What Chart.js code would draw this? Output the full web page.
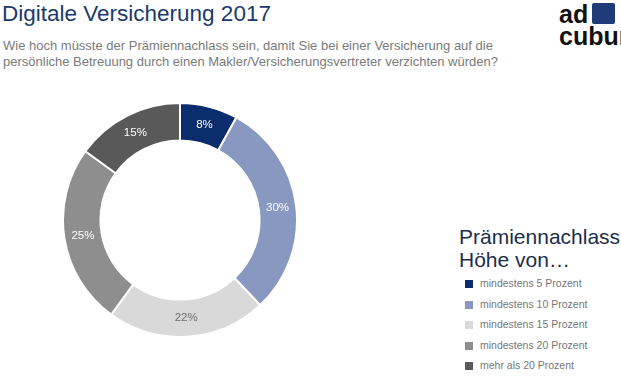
<!DOCTYPE html>
<html>
<head>
<meta charset="utf-8">
<script src="https://cdn.jsdelivr.net/npm/chart.js@4"></script>
<style>
  body { margin: 0; width: 621px; height: 383px; background: #fff; overflow: hidden; font-family: "Liberation Sans", Arial, sans-serif; position: relative; }
  #title { position: absolute; left: 2px; top: 1px; font-size: 22.5px; color: #1b3a6b; }
  #sub { position: absolute; left: 3px; top: 38px; font-size: 13px; line-height: 16px; color: #7a7a7a; }
  #logo { position: absolute; left: 559px; top: 3px; font-weight: bold; font-size: 25px; line-height: 22px; color: #111; }
  #logo .sq { display: inline-block; width: 23px; height: 21px; background: #1f3a78; vertical-align: -1px; margin-left: 4px; border-radius: 2px; }
  #chartBox { position: absolute; left: 60px; top: 100px; width: 240px; height: 240px; }
  #legTitle { position: absolute; left: 459px; top: 225px; font-size: 21px; line-height: 23px; color: #1c2e4a; }
  #legend { position: absolute; left: 465px; top: 277px; font-size: 10.5px; color: #777; }
  #legend div { height: 20.5px; white-space: nowrap; }
  #legend span.box { display: inline-block; width: 8px; height: 8px; margin-right: 7px; vertical-align: -1px; }
</style>
</head>
<body>
<div id="title">Digitale Versicherung 2017</div>
<div id="sub">Wie hoch müsste der Prämiennachlass sein, damit Sie bei einer Versicherung auf die<br>persönliche Betreuung durch einen Makler/Versicherungsvertreter verzichten würden?</div>
<div id="logo">ad<span class="sq"></span><br>cubum</div>
<div id="chartBox"><canvas id="donut"></canvas></div>
<div id="legTitle">Prämiennachlass<br>Höhe von…</div>
<div id="legend"></div>
<script>
const categories = ['mindestens 5 Prozent', 'mindestens 10 Prozent', 'mindestens 15 Prozent', 'mindestens 20 Prozent', 'mehr als 20 Prozent'];
const values = [8, 30, 22, 25, 15];
const colors = ['#0b2d6e', '#8898c0', '#d9d9d9', '#8e8e8e', '#595959'];
const labelColors = ['#ffffff', '#ffffff', '#6e6e6e', '#ffffff', '#ffffff'];

// Legende
const legend = document.getElementById('legend');
categories.forEach((c, i) => {
    const row = document.createElement('div');
    row.innerHTML = `<span class="box" style="background:${colors[i]}"></span>${c}`;
    legend.appendChild(row);
});

// Prozentwerte in den Segmenten
const sliceLabels = {
    id: 'sliceLabels',
    afterDatasetsDraw(chart) {
        const ctx = chart.ctx;
        const meta = chart.getDatasetMeta(0);
        ctx.save();
        ctx.font = '11.5px "Liberation Sans", Arial, sans-serif';
        ctx.textAlign = 'center';
        ctx.textBaseline = 'middle';
        meta.data.forEach((arc, i) => {
            const p = arc.tooltipPosition();
            ctx.fillStyle = labelColors[i];
            ctx.fillText(values[i] + '%', p.x, p.y);
        });
        ctx.restore();
    }
};

new Chart(document.getElementById('donut'), {
    type: 'doughnut',
    data: {
        labels: categories,
        datasets: [{
            data: values,
            backgroundColor: colors,
            borderColor: '#ffffff',
            borderWidth: 2
        }]
    },
    options: {
        responsive: true,
        maintainAspectRatio: false,
        animation: false,
        cutout: '68%',
        layout: { padding: 2 },
        plugins: { legend: { display: false }, tooltip: { enabled: false } }
    },
    plugins: [sliceLabels]
});
</script>
</body>
</html>
